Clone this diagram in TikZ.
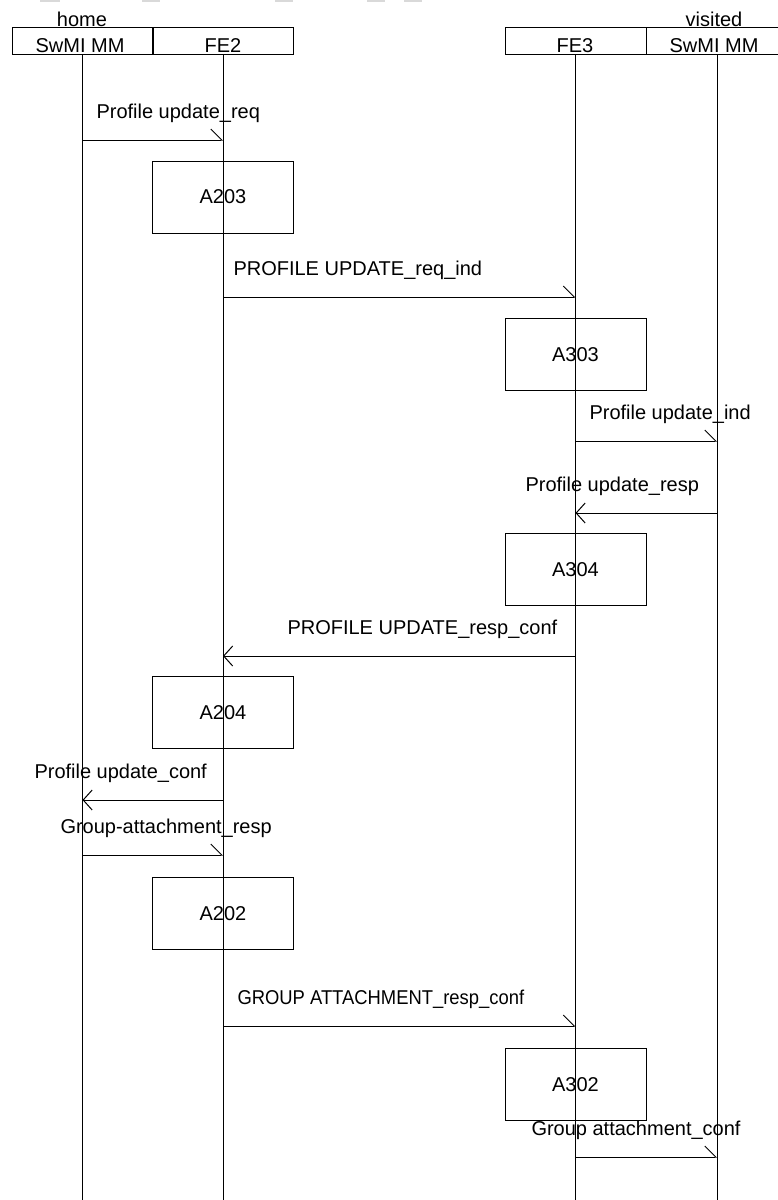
\documentclass[tikz,border=0pt]{standalone}
\usepackage{fontspec}
\setmainfont{Liberation Sans}
\usetikzlibrary{arrows.meta}

\begin{document}
\begin{tikzpicture}[x=1pt,y=-1pt,line width=1pt,
  every node/.style={font=\fontsize{20}{24}\selectfont,inner sep=0pt},
  hdr/.style={draw,minimum width=141pt,minimum height=27pt},
  act/.style={draw,minimum width=141pt,minimum height=72pt},
  msg/.style={anchor=base west},
  ttl/.style={anchor=base},
  fwd/.style={-{Straight Barb[left,length=11pt,width=22pt]}},
  bwd/.style={-{Straight Barb[length=9pt,width=20pt]}}]
\useasboundingbox (0,0) rectangle (778,1200);
\fill[black!15] (40,0) rectangle (60,2);
\fill[black!15] (142,0) rectangle (160,2);
\fill[black!15] (275,0) rectangle (293,2);
\fill[black!15] (367,0) rectangle (385,2);
\fill[black!15] (404,0) rectangle (422,2);
\node[hdr] (hm) at (82.5,40.5) {};
\node[hdr] (fe2) at (223,40.5) {};
\node[hdr] (fe3) at (575.5,40.5) {};
\node[hdr] (vm) at (717,40.5) {};
\node[ttl] (home) at (82,26) {home};
\node[ttl] (visited) at (714,26) {visited};
\node[ttl] (hmt) at (80,52) {SwMI MM};
\node[ttl] (fe2t) at (223,52) {FE2};
\node[ttl] (fe3t) at (575,52) {FE3};
\node[ttl] (vmt) at (714,52) {SwMI MM};
\coordinate (bot) at (0,1200);
\draw (hm.south) -- (hm.south |- bot);
\draw (fe2.south) -- (fe2.south |- bot);
\draw (fe3.south) -- (fe3.south |- bot);
\draw (vm.south) -- (vm.south |- bot);
\node[act] (a203) at (223,197) {A203};
\node[act] (a303) at (575.5,354.5) {A303};
\node[act] (a304) at (575.5,569.5) {A304};
\node[act] (a204) at (223,712.5) {A204};
\node[act] (a202) at (223,913.5) {A202};
\node[act] (a302) at (575.5,1084.5) {A302};
\coordinate (y1) at (0,140);
\coordinate (y2) at (0,297);
\coordinate (y3) at (0,441);
\coordinate (y4) at (0,513);
\coordinate (y5) at (0,656);
\coordinate (y6) at (0,800);
\coordinate (y7) at (0,855);
\coordinate (y8) at (0,1026);
\coordinate (y9) at (0,1157);
\draw[fwd] (hm |- y1) -- (fe2 |- y1);
\draw[fwd] (fe2 |- y2) -- (fe3 |- y2);
\draw[fwd] (fe3 |- y3) -- (vm |- y3);
\draw[bwd] (vm |- y4) -- (fe3 |- y4);
\draw[bwd] (fe3 |- y5) -- (fe2 |- y5);
\draw[bwd] (fe2 |- y6) -- (hm |- y6);
\draw[fwd] (hm |- y7) -- (fe2 |- y7);
\draw[fwd] (fe2 |- y8) -- (fe3 |- y8);
\draw[fwd] (fe3 |- y9) -- (vm |- y9);
\node[msg] (m1) at (96,118) {Profile update\_req};
\node[msg] (m2) at (233,275) {PROFILE UPDATE\_req\_ind};
\node[msg] (m3) at (589,419) {Profile update\_ind};
\node[msg] (m4) at (525,491) {Profile update\_resp};
\node[msg] (m5) at (287,634) {PROFILE UPDATE\_resp\_conf};
\node[msg] (m6) at (34,778) {Profile update\_conf};
\node[msg] (m7) at (60,833) {Group-attachment\_resp};
\node[msg] (m8) at (237,1004) {\scalebox{0.92}[1]{GROUP ATTACHMENT\_resp\_conf}};
\node[msg] (m9) at (531,1135) {Group attachment\_conf};
\end{tikzpicture}
\end{document}
